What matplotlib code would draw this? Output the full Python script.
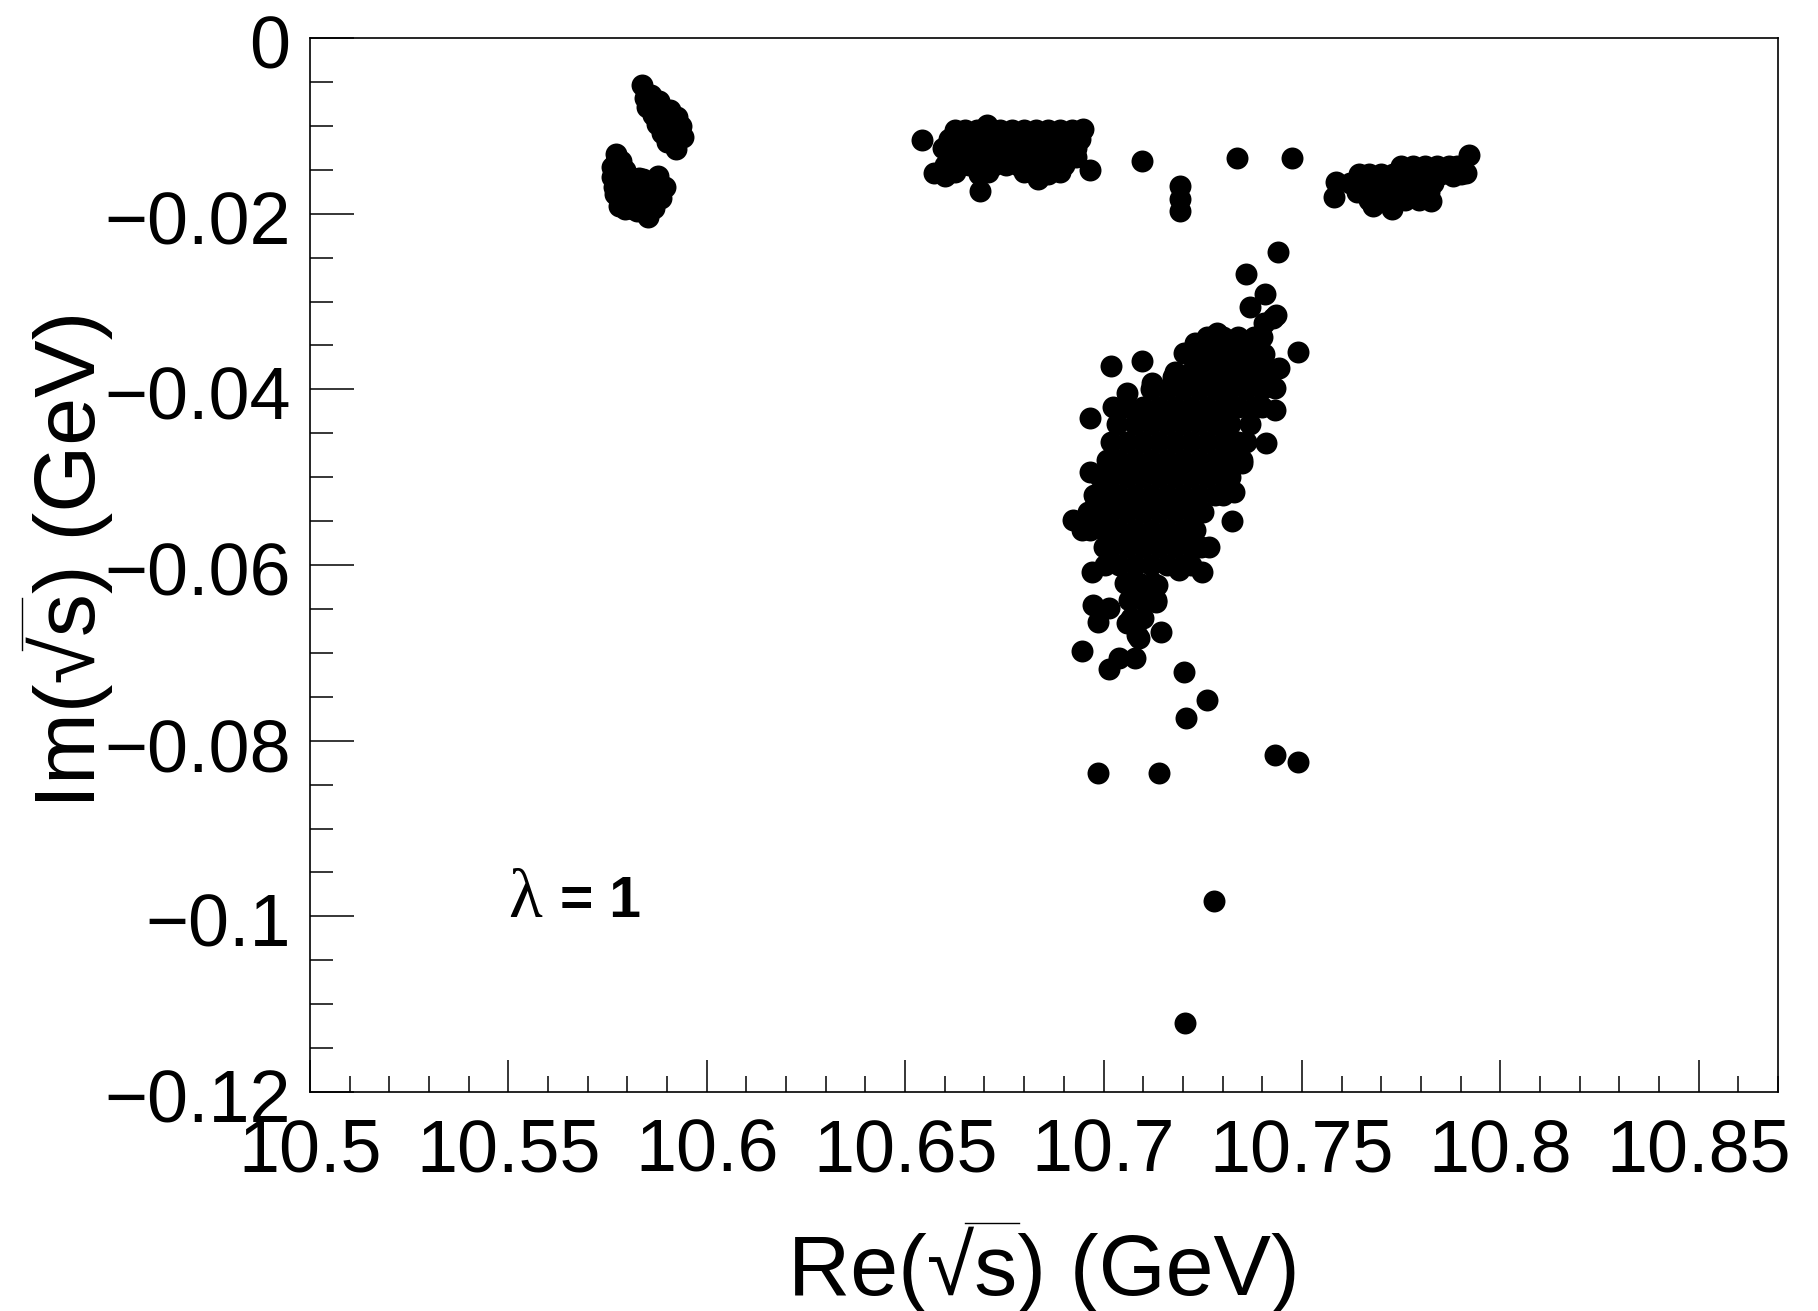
import matplotlib
matplotlib.use("Agg")
import matplotlib.pyplot as plt
from matplotlib.lines import Line2D
from matplotlib.ticker import MultipleLocator
from matplotlib.transforms import ScaledTranslation

plt.rcParams['font.family'] = ['Liberation Sans', 'DejaVu Sans']

# Upper left blob
a1_re = [10.5838, 10.5845, 10.585, 10.5865, 10.5875, 10.5887, 10.590, 10.5922, 10.594, 10.5935, 10.5925, 10.5907,
         10.588, 10.586, 10.5895, 10.591, 10.592, 10.5885]
a1_im = [-0.0054, -0.0068, -0.0078, -0.0088, -0.0098, -0.0108, -0.0118, -0.0126, -0.0113, -0.0100, -0.0090, -0.0082,
         -0.0072, -0.0065, -0.0095, -0.0105, -0.0115, -0.0085]

# Lower left blob
a2_re = [10.5771, 10.576, 10.5765, 10.5778, 10.5815, 10.5851, 10.5866, 10.5894, 10.5877, 10.5829, 10.5795, 10.578,
         10.581, 10.584, 10.587, 10.5785, 10.5815, 10.5845, 10.5875, 10.5795, 10.5825, 10.5855, 10.5885, 10.5785,
         10.5815, 10.5845, 10.5868, 10.5795, 10.5825, 10.5855, 10.5785, 10.5772, 10.5762, 10.5772, 10.5768, 10.5778]
a2_im = [-0.0132, -0.0147, -0.0170, -0.0191, -0.0195, -0.0204, -0.0194, -0.0170, -0.0157, -0.0159, -0.0150, -0.0160,
         -0.0160, -0.0160, -0.0165, -0.0170, -0.0170, -0.0170, -0.0175, -0.0180, -0.0180, -0.0180, -0.0182, -0.0188,
         -0.0188, -0.0190, -0.0188, -0.0195, -0.0197, -0.0197, -0.0140, -0.0140, -0.0158, -0.0162, -0.0178, -0.0183]

b_rows_im = [-0.0105, -0.0115, -0.0125, -0.0135, -0.0145]
b_rows_re = [
    [10.6625, 10.665, 10.668, 10.671, 10.674, 10.677, 10.680, 10.683, 10.686, 10.689, 10.692, 10.6945],
    [10.661, 10.664, 10.667, 10.670, 10.673, 10.676, 10.679, 10.682, 10.685, 10.688, 10.691, 10.694],
    [10.6595, 10.6625, 10.6655, 10.6685, 10.6715, 10.6745, 10.6775, 10.6805, 10.6835, 10.6865, 10.6895, 10.693],
    [10.661, 10.664, 10.667, 10.670, 10.673, 10.676, 10.679, 10.682, 10.685, 10.688, 10.691, 10.693],
    [10.660, 10.663, 10.666, 10.6695, 10.6725, 10.6755, 10.6785, 10.6815, 10.6845, 10.6875, 10.690],
]
b_re = [10.6542, 10.6574, 10.660, 10.6688, 10.6706, 10.6948, 10.6966, 10.6625, 10.6685, 10.671, 10.680, 10.6835,
        10.686, 10.689]
b_im = [-0.0116, -0.0154, -0.0157, -0.0174, -0.0099, -0.0104, -0.0150, -0.0152, -0.0155, -0.0152, -0.0153, -0.0160,
        -0.0155, -0.0152]

# Right band
c_rows_im = [-0.0146, -0.0155, -0.0165, -0.0175, -0.0185]
c_rows_re = [
    [10.775, 10.778, 10.781, 10.784, 10.787, 10.789],
    [10.7645, 10.767, 10.770, 10.773, 10.776, 10.779, 10.782, 10.785, 10.788, 10.790],
    [10.762, 10.765, 10.768, 10.771, 10.774, 10.777, 10.780, 10.783],
    [10.764, 10.767, 10.770, 10.773, 10.776, 10.779, 10.782],
    [10.767, 10.770, 10.773, 10.776, 10.7795],
]
c_re = [10.7587, 10.7582, 10.792, 10.7914, 10.7678, 10.7728, 10.7826, 10.788]
c_im = [-0.0164, -0.0181, -0.0133, -0.0154, -0.0191, -0.0195, -0.0186, -0.0157]

d_rows_im = [-0.034, -0.035, -0.036, -0.037, -0.038, -0.039, -0.040, -0.042, -0.044, -0.046, -0.048, -0.050,
             -0.052, -0.054, -0.056, -0.058, -0.060, -0.062, -0.064, -0.066, -0.068]
d_rows_re = [
    [10.726, 10.730, 10.734, 10.738, 10.740],
    [10.728, 10.732, 10.736, 10.739],
    [10.722, 10.726, 10.730, 10.734, 10.738, 10.7405],
    [10.724, 10.728, 10.732, 10.736, 10.740],
    [10.718, 10.722, 10.726, 10.730, 10.734, 10.738, 10.741],
    [10.720, 10.724, 10.728, 10.732, 10.736, 10.740],
    [10.712, 10.716, 10.720, 10.724, 10.728, 10.732, 10.736, 10.740],
    [10.706, 10.710, 10.714, 10.718, 10.722, 10.726, 10.730, 10.734, 10.738, 10.740],
    [10.7035, 10.708, 10.712, 10.716, 10.720, 10.724, 10.728, 10.732, 10.737],
    [10.702, 10.706, 10.710, 10.714, 10.718, 10.722, 10.726, 10.730, 10.734, 10.736],
    [10.701, 10.704, 10.708, 10.712, 10.716, 10.720, 10.724, 10.728, 10.732, 10.735],
    [10.6992, 10.702, 10.706, 10.710, 10.714, 10.718, 10.722, 10.726, 10.730, 10.732],
    [10.6975, 10.700, 10.704, 10.708, 10.712, 10.716, 10.720, 10.724, 10.728, 10.730],
    [10.696, 10.698, 10.702, 10.706, 10.710, 10.714, 10.718, 10.722, 10.725],
    [10.6965, 10.700, 10.704, 10.708, 10.712, 10.716, 10.720, 10.723],
    [10.700, 10.702, 10.706, 10.710, 10.714, 10.718, 10.722, 10.7245],
    [10.7005, 10.704, 10.708, 10.712, 10.716, 10.720, 10.722],
    [10.7055, 10.709, 10.7125],
    [10.7065, 10.710, 10.7133],
    [10.707, 10.710],
    [10.7085],
]

# Loose points and the edge of the big cluster
e_re = [10.7097, 10.7336, 10.7474, 10.7193, 10.7193, 10.7193, 10.7439, 10.736, 10.7408, 10.749, 10.7368, 10.7426,
        10.7405, 10.7435, 10.7287, 10.723, 10.7204, 10.7174, 10.7121, 10.706, 10.7023, 10.7443, 10.7431, 10.7431,
        10.7018, 10.7097, 10.6965, 10.741, 10.735, 10.733, 10.7325, 10.7267, 10.7247, 10.719, 10.697, 10.6922,
        10.6945, 10.6965, 10.6978, 10.6973, 10.7015, 10.6985, 10.706, 10.7133, 10.7136, 10.7146, 10.6947, 10.7013,
        10.704, 10.708, 10.709, 10.7204, 10.7262, 10.7209, 10.6986, 10.7141, 10.7433, 10.7491, 10.7278, 10.7205]
e_im = [-0.0140, -0.0137, -0.0137, -0.0168, -0.0183, -0.0197, -0.0244, -0.0269, -0.0291, -0.0358, -0.0306, -0.0319,
        -0.0325, -0.0315, -0.0336, -0.0347, -0.0359, -0.0386, -0.0393, -0.0404, -0.0420, -0.0376, -0.0398, -0.0424,
        -0.0374, -0.0368, -0.0433, -0.0461, -0.0484, -0.0517, -0.0550, -0.0580, -0.0608, -0.0606, -0.0608, -0.0549,
        -0.0560, -0.0494, -0.0523, -0.0645, -0.0649, -0.0665, -0.0666, -0.0642, -0.0623, -0.0676, -0.0698, -0.0718,
        -0.0706, -0.0706, -0.0683, -0.0722, -0.0754, -0.0774, -0.0837, -0.0837, -0.0816, -0.0824, -0.0982, -0.1122]

x_ticks = [10.5, 10.55, 10.6, 10.65, 10.7, 10.75, 10.8, 10.85]
x_labels = ["10.5", "10.55", "10.6", "10.65", "10.7", "10.75", "10.8", "10.85"]
y_ticks = [0, -0.02, -0.04, -0.06, -0.08, -0.1, -0.12]
y_labels = ["0", "\u22120.02", "\u22120.04", "\u22120.06", "\u22120.08", "\u22120.1", "\u22120.12"]

W, H = 1818, 1311
fig = plt.figure(figsize=(W / 100, H / 100), dpi=100)
ax = fig.add_axes([310 / W, 1 - 1092 / H, (1778 - 310) / W, (1092 - 38) / H])

s = 250
ax.scatter(a1_re, a1_im, s=s, c='k', linewidths=0)
ax.scatter(a2_re, a2_im, s=s, c='k', linewidths=0)
ax.scatter(b_re, b_im, s=s, c='k', linewidths=0)
ax.scatter(c_re, c_im, s=s, c='k', linewidths=0)
for rows_im, rows_re in [(b_rows_im, b_rows_re), (c_rows_im, c_rows_re), (d_rows_im, d_rows_re)]:
    for im, re in zip(rows_im, rows_re):
        ax.scatter(re, [im] * len(re), s=s, c='k', linewidths=0)
ax.scatter(e_re, e_im, s=s, c='k', linewidths=0)

ax.set_xlim(10.5, 10.87)
ax.set_ylim(-0.12, 0)
ax.set_xticks(x_ticks)
ax.set_xticklabels(x_labels)
ax.set_yticks(y_ticks)
ax.set_yticklabels(y_labels)
ax.xaxis.set_minor_locator(MultipleLocator(0.01))
ax.yaxis.set_minor_locator(MultipleLocator(0.005))

# ticks point inwards, ROOT style; lengths in points at dpi 100
ax.tick_params(axis='x', which='major', direction='in', length=23, width=1.1, labelsize=53, pad=18)
ax.tick_params(axis='x', which='minor', direction='in', length=11.5, width=1.1)
ax.tick_params(axis='y', which='major', direction='in', length=32, width=1.1, labelsize=53, pad=14)
ax.tick_params(axis='y', which='minor', direction='in', length=16.5, width=1.1)
for sp in ax.spines.values():
    sp.set_linewidth(1.2)

# y labels sit a little below their ticks
shift = ScaledTranslation(0, -3.5 / 100, fig.dpi_scale_trans)
for lab in ax.get_yticklabels():
    lab.set_transform(lab.get_transform() + shift)

fig.text(788 / W, 1 - 1295 / H, "Re(\u221as) (GeV)", fontsize=62, ha='left', va='baseline')
fig.text(95 / W, 1 - 559 / H, "Im(\u221as) (GeV)", fontsize=62, ha='center', va='baseline',
         rotation=90, rotation_mode='anchor')
# bars over the s in both titles
fig.add_artist(Line2D([965 / W, 1019 / W], [1 - 1223 / H, 1 - 1223 / H], color='k', lw=1.0))
fig.add_artist(Line2D([22 / W, 22 / W], [1 - 598 / H, 1 - 650 / H], color='k', lw=1.0))

fig.text(508 / W, 1 - 917 / H, "\u03bb", fontsize=50, family='Liberation Serif', va='baseline')
fig.text(560 / W, 1 - 917 / H, "= 1", fontsize=41, fontweight='bold', va='baseline')

fig.savefig("out.png", dpi=100)
